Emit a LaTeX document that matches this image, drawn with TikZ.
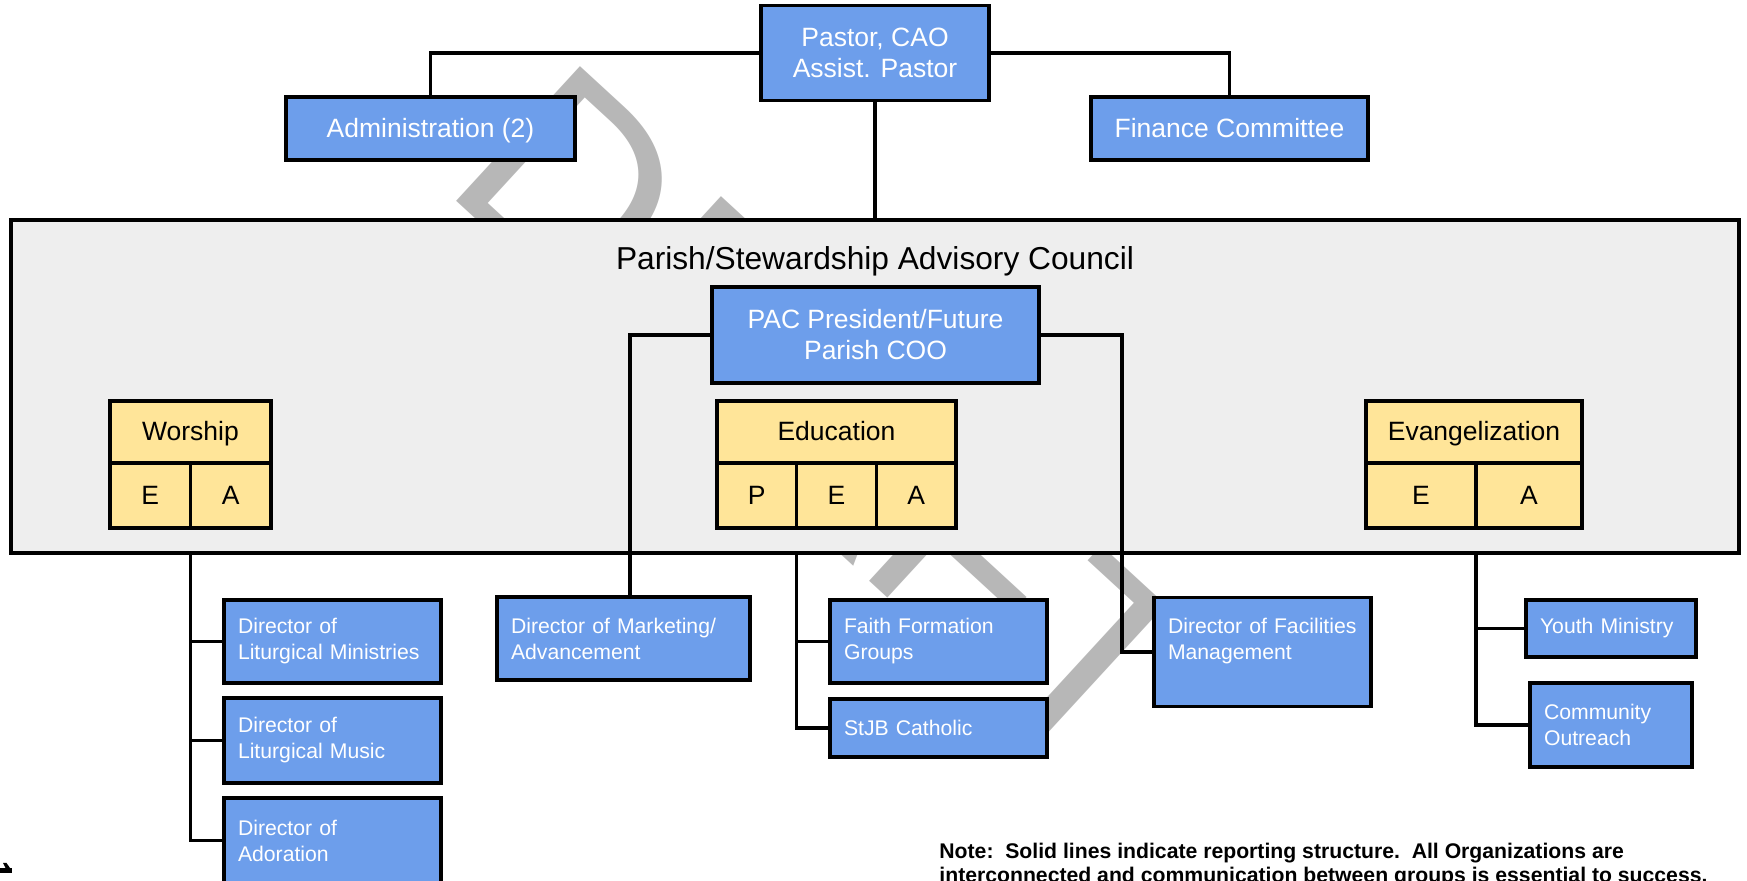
\documentclass[tikz,border=0pt]{standalone}
\usepackage{fontspec}
\setmainfont{Liberation Sans}
\usetikzlibrary{calc}
\definecolor{boxblue}{HTML}{6D9EEB}
\definecolor{boxyellow}{HTML}{FFE599}
\definecolor{councilgray}{HTML}{EEEEEE}
\definecolor{draftgray}{HTML}{B7B7B7}
\begin{document}
\begin{tikzpicture}[x=0.5pt, y=-0.5pt,
        bigbox/.style={draw, line width=1.7pt, fill=boxblue, text=white, align=center, inner sep=0pt, outer sep=0pt, font=\fontsize{13.25}{15.5}\selectfont},
        smallbox/.style={draw, line width=1.7pt, fill=boxblue, text=white, align=left, inner xsep=7pt, inner ysep=0pt, outer sep=0pt, font=\fontsize{10.6}{13}\selectfont},
        grp/.style={draw, line width=1.6pt, fill=boxyellow, inner sep=0pt, outer sep=0pt, text height=0.88em, text depth=0pt, font=\fontsize{13.25}{15.5}\selectfont},
        link/.style={line width=1.6pt}]
    \useasboundingbox (0,0) rectangle (1747,881);
    \node[text=draftgray, rotate=-42.6, anchor=base west, inner sep=0pt, font=\fontsize{133}{133}\selectfont] (draft) at (440,186) {DRAFT};
    \node[draw, line width=1.7pt, fill=councilgray, outer sep=0pt, minimum width=864pt, minimum height=166.5pt] (council) at (875,386.5) {};
    \node[font=\fontsize{15.85}{18}\selectfont] (ctitle) at (875,261) {Parish/Stewardship Advisory Council};
    \node[bigbox, minimum width=114pt, minimum height=47.5pt] (pastor) at (875,53) {Pastor, CAO\\Assist. Pastor};
    \node[bigbox, text height=0.88em, text depth=0pt, minimum width=144.5pt, minimum height=31.5pt] (admin) at (430.5,128.5) {Administration (2)};
    \node[bigbox, text height=0.88em, text depth=0pt, minimum width=138.5pt, minimum height=31.5pt] (finance) at (1229.5,128.5) {Finance Committee};
    \node[bigbox, minimum width=163.5pt, minimum height=48pt] (pac) at (875.5,335) {PAC President/Future\\Parish COO};
    \node[grp, minimum width=80.5pt, minimum height=31pt] (ws) at (190.5,432) {Worship};
    \node[grp, anchor=north west, minimum width=40.25pt, minimum height=32.5pt] (wsE) at (ws.south west) {E};
    \node[grp, anchor=north west, minimum width=40.25pt, minimum height=32.5pt] (wsA) at (wsE.north east) {A};
    \node[grp, minimum width=119.5pt, minimum height=31pt] (ed) at (836.5,432) {Education};
    \node[grp, anchor=north west, minimum width=39.83pt, minimum height=32.5pt] (edP) at (ed.south west) {P};
    \node[grp, anchor=north west, minimum width=39.83pt, minimum height=32.5pt] (edE) at (edP.north east) {E};
    \node[grp, anchor=north west, minimum width=39.83pt, minimum height=32.5pt] (edA) at (edE.north east) {A};
    \node[grp, minimum width=108pt, minimum height=31pt] (ev) at (1474,432) {Evangelization};
    \node[grp, anchor=north west, minimum width=55pt, minimum height=32.5pt] (evE) at (ev.south west) {E};
    \node[grp, anchor=north west, minimum width=53pt, minimum height=32.5pt] (evA) at (evE.north east) {A};
    \node[smallbox, text width=94.5pt, minimum height=41.5pt] (litmin) at (332.5,641.5) {Director of\\Liturgical Ministries};
    \node[smallbox, text width=94.5pt, minimum height=42.5pt] (litmus) at (332.5,740.5) {Director of\\Liturgical Music};
    \node[smallbox, text width=94.5pt, minimum height=42.5pt] (ador) at (332.5,840.5) {Director of\\Adoration};
    \node[smallbox, text width=112.5pt, minimum height=41.5pt] (mkt) at (623.5,638.5) {Director of Marketing/\\Advancement};
    \node[smallbox, text width=94.5pt, minimum height=41.5pt] (faith) at (938.5,641.5) {Faith Formation\\Groups};
    \node[smallbox, text width=94.5pt, minimum height=29pt] (stjb) at (938.5,728) {StJB Catholic};
    \node[smallbox, text width=94.5pt, minimum height=54.5pt] (fac) at (1262.5,652) {Director of Facilities\\Management\\\mbox{}};
    \node[smallbox, text width=71pt, minimum height=28.5pt] (youth) at (1611,628.5) {Youth Ministry};
    \node[smallbox, text width=67pt, minimum height=42pt] (comm) at (1611,725) {Community\\Outreach};
    \draw[link] (pastor.west) -| (admin.north);
    \draw[link] (pastor.east) -| (finance.north);
    \draw[link] (pastor.south) -- (council.north);
    \draw[link] (pac.west) -| ([xshift=3.25pt]mkt.north);
    \draw[link] (pac.east) -| ($(fac.west)+(-32,0)$) -- (fac.west);
    \draw[link] (wsE.south east |- council.south) |- (ador.west);
    \draw[link] (wsE.south east |- litmin.west) -- (litmin.west);
    \draw[link] (wsE.south east |- litmus.west) -- (litmus.west);
    \draw[link] (edP.south east |- council.south) |- (stjb.west);
    \draw[link] (edP.south east |- faith.west) -- (faith.west);
    \draw[link] (evE.south east |- council.south) |- (comm.west);
    \draw[link] (evE.south east |- youth.west) -- (youth.west);
    \node[anchor=base west, align=left, inner sep=0pt, font=\bfseries\fontsize{10.6}{12.5}\selectfont] (note) at (939,883) {Note:\ \ Solid lines indicate reporting structure.\ \ All Organizations are\\interconnected and communication between groups is essential to success.};
    \fill (0,868) rectangle (12,873);
    \fill (3,863) -- (6.5,863) -- (10,868) -- (5.5,868) -- cycle;
\end{tikzpicture}
\end{document}
